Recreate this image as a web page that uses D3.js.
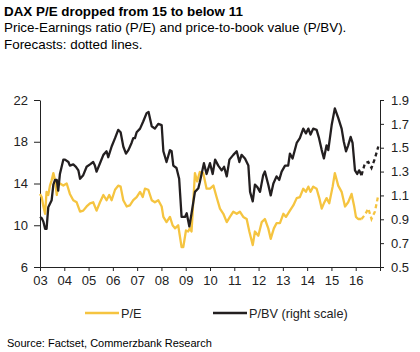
<!DOCTYPE html>
<html>
<head>
<meta charset="utf-8">
<script src="https://cdn.jsdelivr.net/npm/d3@7"></script>
<style>
  html, body { margin: 0; padding: 0; background: #fff; }
  svg { display: block; font-family: "Liberation Sans", Arial, sans-serif; }
</style>
</head>
<body>
<svg id="chart" width="420" height="352"></svg>
<script>
// --- data (decimal year, value) ---
const yearTicks  = [2003, 2004, 2005, 2006, 2007, 2008, 2009, 2010, 2011, 2012, 2013, 2014, 2015, 2016, 2017];
const yearLabels = ['03', '04', '05', '06', '07', '08', '09', '10', '11', '12', '13', '14', '15', '16', ''];
const peTicks    = [6, 10, 14, 18, 22];
const pbvTicks   = [0.5, 0.7, 0.9, 1.1, 1.3, 1.5, 1.7, 1.9];

const peActual = [
  [2003.00, 13.0], [2003.07, 12.7], [2003.14, 11.8], [2003.21, 11.1], [2003.27, 13.2], [2003.34, 12.9],
  [2003.41, 13.8], [2003.48, 14.3], [2003.55, 15.0], [2003.62, 14.3], [2003.69, 12.9], [2003.75, 13.8],
  [2003.82, 14.0], [2003.96, 13.8], [2004.10, 14.0], [2004.23, 13.0], [2004.37, 12.4], [2004.51, 12.2],
  [2004.65, 11.3], [2004.78, 11.4], [2004.92, 11.8], [2005.06, 12.1], [2005.19, 12.2], [2005.33, 11.4],
  [2005.47, 12.2], [2005.61, 12.9], [2005.74, 12.4], [2005.85, 12.9], [2005.95, 12.4], [2006.09, 13.4],
  [2006.22, 13.8], [2006.32, 13.7], [2006.43, 12.4], [2006.57, 11.8], [2006.70, 11.9], [2006.84, 12.4],
  [2006.98, 12.7], [2007.12, 13.2], [2007.23, 12.7], [2007.32, 13.5], [2007.46, 13.4], [2007.60, 12.4],
  [2007.73, 12.2], [2007.87, 12.4], [2008.01, 11.8], [2008.08, 10.8], [2008.21, 10.3], [2008.35, 10.8],
  [2008.46, 10.0], [2008.56, 9.7], [2008.69, 10.0], [2008.83, 7.9], [2008.90, 7.9], [2009.01, 9.5],
  [2009.10, 9.4], [2009.17, 9.7], [2009.24, 9.4], [2009.38, 15.0], [2009.47, 14.2], [2009.58, 15.1],
  [2009.72, 15.0], [2009.86, 13.5], [2010.00, 13.5], [2010.14, 13.8], [2010.27, 12.7], [2010.41, 11.6],
  [2010.55, 11.1], [2010.69, 10.3], [2010.82, 10.8], [2010.96, 11.3], [2011.10, 11.1], [2011.23, 11.3],
  [2011.37, 10.8], [2011.51, 10.6], [2011.62, 9.4], [2011.76, 8.1], [2011.85, 9.4], [2011.99, 9.0],
  [2012.13, 10.3], [2012.26, 10.6], [2012.40, 9.7], [2012.50, 8.7], [2012.63, 9.7], [2012.74, 10.2],
  [2012.88, 10.2], [2013.02, 11.1], [2013.13, 10.8], [2013.29, 11.4], [2013.43, 11.9], [2013.57, 12.6],
  [2013.70, 12.7], [2013.84, 13.5], [2013.95, 13.2], [2014.05, 13.7], [2014.14, 13.2], [2014.25, 13.7],
  [2014.39, 13.5], [2014.50, 12.6], [2014.60, 11.6], [2014.69, 12.1], [2014.80, 12.6], [2014.91, 12.1],
  [2015.05, 13.7], [2015.14, 15.0], [2015.28, 13.8], [2015.42, 13.2], [2015.56, 11.8], [2015.69, 12.2],
  [2015.83, 13.0], [2015.93, 11.9], [2016.01, 10.8], [2016.10, 10.6], [2016.24, 10.6]
];
const peForecast = [
  [2016.24, 10.6], [2016.38, 11.0], [2016.52, 11.6], [2016.65, 10.6], [2016.79, 11.3], [2016.93, 12.9]
];

const pbvActual = [
  [2003.00, 0.92], [2003.07, 0.91], [2003.14, 0.88], [2003.21, 0.82], [2003.27, 0.82], [2003.34, 1.00],
  [2003.41, 1.03], [2003.48, 1.06], [2003.55, 1.19], [2003.62, 1.23], [2003.69, 1.23], [2003.75, 1.14],
  [2003.82, 1.28], [2003.96, 1.40], [2004.03, 1.40], [2004.17, 1.38], [2004.23, 1.35], [2004.37, 1.36],
  [2004.48, 1.34], [2004.58, 1.31], [2004.65, 1.24], [2004.78, 1.27], [2004.92, 1.34], [2005.06, 1.36],
  [2005.19, 1.38], [2005.26, 1.35], [2005.33, 1.30], [2005.47, 1.37], [2005.61, 1.44], [2005.74, 1.47],
  [2005.81, 1.42], [2005.95, 1.51], [2006.09, 1.58], [2006.22, 1.65], [2006.32, 1.63], [2006.43, 1.51],
  [2006.54, 1.45], [2006.64, 1.48], [2006.77, 1.54], [2006.84, 1.58], [2006.91, 1.58], [2006.98, 1.63],
  [2007.12, 1.66], [2007.25, 1.72], [2007.39, 1.79], [2007.47, 1.80], [2007.60, 1.68], [2007.73, 1.66],
  [2007.87, 1.70], [2008.01, 1.69], [2008.08, 1.47], [2008.21, 1.38], [2008.35, 1.48], [2008.42, 1.47],
  [2008.49, 1.35], [2008.62, 1.33], [2008.73, 1.24], [2008.83, 0.92], [2008.97, 0.92], [2009.04, 0.95],
  [2009.15, 0.84], [2009.24, 0.95], [2009.38, 1.13], [2009.52, 1.16], [2009.58, 1.21], [2009.75, 1.37],
  [2009.86, 1.28], [2010.00, 1.37], [2010.11, 1.28], [2010.21, 1.40], [2010.34, 1.35], [2010.48, 1.31],
  [2010.58, 1.34], [2010.69, 1.26], [2010.80, 1.40], [2010.96, 1.44], [2011.10, 1.47], [2011.21, 1.38],
  [2011.30, 1.44], [2011.44, 1.41], [2011.58, 1.35], [2011.65, 1.13], [2011.76, 1.05], [2011.85, 1.19],
  [2011.95, 1.17], [2012.06, 1.13], [2012.19, 1.27], [2012.26, 1.30], [2012.40, 1.19], [2012.50, 1.10],
  [2012.61, 1.20], [2012.74, 1.26], [2012.85, 1.23], [2012.95, 1.30], [2013.09, 1.35], [2013.22, 1.35],
  [2013.29, 1.45], [2013.40, 1.41], [2013.57, 1.54], [2013.70, 1.58], [2013.84, 1.66], [2013.95, 1.62],
  [2014.05, 1.66], [2014.14, 1.61], [2014.25, 1.66], [2014.39, 1.65], [2014.49, 1.58], [2014.60, 1.48],
  [2014.69, 1.41], [2014.80, 1.52], [2014.87, 1.48], [2015.01, 1.69], [2015.14, 1.83], [2015.28, 1.75],
  [2015.42, 1.66], [2015.51, 1.55], [2015.60, 1.47], [2015.69, 1.52], [2015.79, 1.59], [2015.87, 1.54],
  [2015.97, 1.31], [2016.06, 1.28], [2016.14, 1.31], [2016.24, 1.27]
];
const pbvForecast = [
  [2016.24, 1.27], [2016.38, 1.37], [2016.52, 1.38], [2016.65, 1.33], [2016.79, 1.41], [2016.93, 1.51]
];

const colPE  = '#F5C440';
const colPBV = '#231F20';

// --- layout ---
const svg = d3.select('#chart');
const plot = { left: 40, right: 380, top: 100, bottom: 267 };

const x  = d3.scaleLinear().domain([2003, 2017]).range([plot.left, plot.right]);
const yL = d3.scaleLinear().domain([6, 22]).range([plot.bottom, plot.top]);
const yR = d3.scaleLinear().domain([0.5, 1.9]).range([plot.bottom, plot.top]);

// titles
svg.append('text').attr('x', 4).attr('y', 16)
  .attr('font-size', 13.4).attr('font-weight', 'bold').attr('fill', '#000')
  .text('DAX P/E dropped from 15 to below 11');
svg.append('text').attr('x', 4).attr('y', 32)
  .attr('font-size', 13.4).attr('fill', '#000')
  .text('Price-Earnings ratio (P/E) and price-to-book value (P/BV).');
svg.append('text').attr('x', 4).attr('y', 49)
  .attr('font-size', 13.4).attr('fill', '#000')
  .text('Forecasts: dotted lines.');

// axes
const styleAxis = g => {
  g.selectAll('path, line').attr('stroke', '#222');
  g.selectAll('text').attr('fill', '#222').attr('font-size', 13)
    .attr('font-family', '"Liberation Sans", Arial, sans-serif');
};

svg.append('g')
  .attr('transform', `translate(${plot.left},0)`)
  .call(d3.axisLeft(yL).tickValues(peTicks).tickSize(6).tickSizeOuter(0).tickPadding(6))
  .call(styleAxis);

svg.append('g')
  .attr('transform', `translate(${plot.right},0)`)
  .call(d3.axisRight(yR).tickValues(pbvTicks).tickFormat(d3.format('.1f')).tickSize(4).tickSizeOuter(0).tickPadding(7))
  .call(styleAxis);

svg.append('g')
  .attr('transform', `translate(0,${plot.bottom})`)
  .call(d3.axisBottom(x).tickValues(yearTicks).tickFormat((d, i) => yearLabels[i]).tickSize(4).tickSizeOuter(0).tickPadding(5))
  .call(styleAxis);

// lines
const linePE  = d3.line().x(d => x(d[0])).y(d => yL(d[1]));
const linePBV = d3.line().x(d => x(d[0])).y(d => yR(d[1]));

svg.append('path').datum(peActual)
  .attr('fill', 'none').attr('stroke', colPE).attr('stroke-width', 2.3)
  .attr('stroke-linejoin', 'round').attr('d', linePE);
svg.append('path').datum(peForecast)
  .attr('fill', 'none').attr('stroke', colPE).attr('stroke-width', 2.3)
  .attr('stroke-dasharray', '4,3').attr('d', linePE);

svg.append('path').datum(pbvActual)
  .attr('fill', 'none').attr('stroke', colPBV).attr('stroke-width', 2.3)
  .attr('stroke-linejoin', 'round').attr('d', linePBV);
svg.append('path').datum(pbvForecast)
  .attr('fill', 'none').attr('stroke', colPBV).attr('stroke-width', 2.3)
  .attr('stroke-dasharray', '4,3').attr('d', linePBV);

// legend
const legend = [
  { label: 'P/E', color: colPE, x: 85 },
  { label: 'P/BV (right scale)', color: colPBV, x: 213 }
];
legend.forEach(l => {
  svg.append('line').attr('x1', l.x).attr('x2', l.x + 34).attr('y1', 313).attr('y2', 313)
    .attr('stroke', l.color).attr('stroke-width', 2.6);
  svg.append('text').attr('x', l.x + 36).attr('y', 317.5)
    .attr('font-size', 12.7).attr('fill', '#222').text(l.label);
});

// source
svg.append('text').attr('x', 7).attr('y', 347)
  .attr('font-size', 11).attr('fill', '#000')
  .text('Source: Factset, Commerzbank Research');
</script>
</body>
</html>
